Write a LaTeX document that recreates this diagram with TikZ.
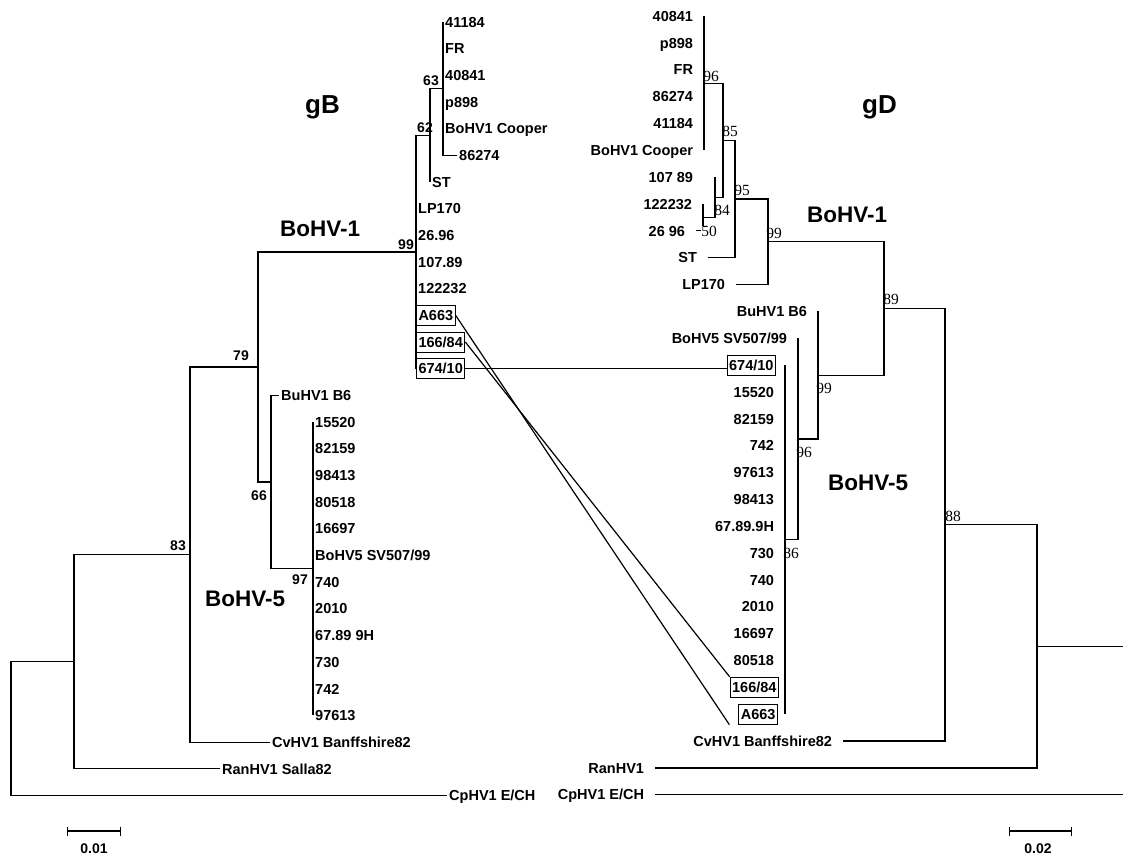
\documentclass[tikz,border=0pt]{standalone}
\usepackage{fontspec}
\setmainfont{Liberation Sans}
\newfontfamily\serifnum{Liberation Serif}
\usetikzlibrary{positioning, arrows.meta}
\tikzset{>=Stealth}
\tikzset{
  br/.style={line width=1.2pt},
  lleaf/.style={anchor=west, inner xsep=2pt, inner ysep=0pt, text height=10.4pt, text depth=0pt, font=\bfseries\fontsize{14.5}{16}\selectfont},
  rleaf/.style={lleaf, anchor=east, inner xsep=0pt, outer xsep=11pt},
  ltag/.style={lleaf, draw, line width=1pt, inner xsep=2pt, inner ysep=4.8pt},
  rtag/.style={ltag, anchor=east},
  lboot/.style={inner sep=0pt, text height=10.4pt, text depth=0pt, font=\bfseries\fontsize{14}{16}\selectfont},
  rboot/.style={lboot, font=\serifnum\fontsize{15.5}{16}\selectfont},
  clade/.style={anchor=base west, inner sep=0pt, font=\bfseries\fontsize{22.5}{24}\selectfont},
  gene/.style={clade, font=\bfseries\fontsize{26}{28}\selectfont},
  scalebar/.style={br, {Bar[width=9pt]}-{Bar[width=9pt]}}
}

\begin{document}
\begin{tikzpicture}[x=1pt, y=-1pt]
\useasboundingbox (0,0) rectangle (1123,854);

% ---- gB ----
\node[gene] (gB) at (305,113) {gB};
\node[clade] (lBoI) at (280,236) {BoHV-1};
\node[clade] (lBoV) at (205,606) {BoHV-5};

\node[lleaf] (L0) at (443,22) {41184};
\node[lleaf] (L1) at (443,48.7) {FR};
\node[lleaf] (L2) at (443,75.3) {40841};
\node[lleaf] (L3) at (443,102) {p898};
\node[lleaf] (L4) at (443,128.7) {BoHV1 Cooper};
\node[lleaf] (L5) at (457,155.4) {86274};
\node[lleaf] (L6) at (430,182) {ST};
\node[lleaf] (L7) at (416,208.7) {LP170};
\node[lleaf] (L8) at (416,235.4) {26.96};
\node[lleaf] (L9) at (416,262) {107.89};
\node[lleaf] (L10) at (416,288.7) {122232};
\node[ltag] (L11) at (416,315.4) {A663};
\node[ltag] (L12) at (416,342) {166/84};
\node[ltag] (L13) at (416,368.7) {674/10};
\node[lleaf] (L14) at (279,395.4) {BuHV1 B6};
\node[lleaf] (L15) at (313,422.1) {15520};
\node[lleaf] (L16) at (313,448.7) {82159};
\node[lleaf] (L17) at (313,475.4) {98413};
\node[lleaf] (L18) at (313,502.1) {80518};
\node[lleaf] (L19) at (313,528.7) {16697};
\node[lleaf] (L20) at (313,555.4) {BoHV5 SV507/99};
\node[lleaf] (L21) at (313,582.1) {740};
\node[lleaf] (L22) at (313,608.7) {2010};
\node[lleaf] (L23) at (313,635.4) {67.89 9H};
\node[lleaf] (L24) at (313,662.1) {730};
\node[lleaf] (L25) at (313,688.8) {742};
\node[lleaf] (L26) at (313,715.4) {97613};
\node[lleaf] (L27) at (270,742.1) {CvHV1 Banffshire82};
\node[lleaf] (L28) at (220,768.8) {RanHV1 Salla82};
\node[lleaf] (L29) at (447,795.4) {CpHV1 E/CH};

\coordinate (n63) at (443,88.7);
\coordinate (n62) at (430,135.4);
\coordinate (n99) at (416,252);
\coordinate (n97) at (313,568.7);
\coordinate (n66) at (271,482);
\coordinate (n79) at (258,367);
\coordinate (n83) at (190,554.6);
\coordinate (nRan) at (74,661.7);
\coordinate (nRoot) at (11,728.6);

\draw[br] (n63 |- L0) -- (n63 |- L5) -- (L5.west);
\draw[br] (n62) |- (n63);  \draw[br] (n62) |- (L6.west);
\draw[br] (n99) |- (n62);  \draw[br] (n99) |- (L13.west);
\draw[br] (n79) |- (n99);  \draw[br] (n79) |- (n66);
\draw[br] (n66) |- (L14.west);  \draw[br] (n66) |- (n97);
\draw[br] (n97) |- (L15.west);  \draw[br] (n97) |- (L26.west);
\draw[br] (n83) |- (n79);  \draw[br] (n83) |- (L27.west);
\draw[br] (nRan) |- (n83);  \draw[br] (nRan) |- (L28.west);
\draw[br] (nRoot) |- (nRan);  \draw[br] (nRoot) |- (L29.west);

\node[lboot] (b63) at (431,80) {63};
\node[lboot] (b62) at (425,127) {62};
\node[lboot] (b99) at (406,244) {99};
\node[lboot] (b79) at (241,355) {79};
\node[lboot] (b66) at (259,495) {66};
\node[lboot] (b97) at (300,579) {97};
\node[lboot] (b83) at (178,545) {83};

% ---- gD ----
\node[gene] (gD) at (862,113) {gD};
\node[clade] (rBoI) at (807,222) {BoHV-1};
\node[clade] (rBoV) at (828,490) {BoHV-5};

\node[rleaf] (R0) at (704,16) {40841};
\node[rleaf] (R1) at (704,42.9) {p898};
\node[rleaf] (R2) at (704,69.7) {FR};
\node[rleaf] (R3) at (704,96.6) {86274};
\node[rleaf] (R4) at (704,123.4) {41184};
\node[rleaf] (R5) at (704,150.3) {BoHV1 Cooper};
\node[rleaf] (R6) at (704,177.1) {107 89};
\node[rleaf] (R7) at (703,204) {122232};
\node[rleaf] (R8) at (696,230.8) {26 96};
\node[rleaf] (R9) at (708,257.7) {ST};
\node[rleaf] (R10) at (736,284.5) {LP170};
\node[rleaf] (R11) at (818,311.4) {BuHV1 B6};
\node[rleaf] (R12) at (798,338.2) {BoHV5 SV507/99};
\node[rtag] (R13) at (776,365.1) {674/10};
\node[rleaf] (R14) at (785,391.9) {15520};
\node[rleaf] (R15) at (785,418.8) {82159};
\node[rleaf] (R16) at (785,445.6) {742};
\node[rleaf] (R17) at (785,472.5) {97613};
\node[rleaf] (R18) at (785,499.3) {98413};
\node[rleaf] (R19) at (785,526.2) {67.89.9H};
\node[rleaf] (R20) at (785,553) {730};
\node[rleaf] (R21) at (785,579.9) {740};
\node[rleaf] (R22) at (785,606.7) {2010};
\node[rleaf] (R23) at (785,633.6) {16697};
\node[rleaf] (R24) at (785,660.4) {80518};
\node[rtag] (R25) at (779,687.3) {166/84};
\node[rtag] (R26) at (778,714.1) {A663};
\node[rleaf] (R27) at (843,741) {CvHV1 Banffshire82};
\node[rleaf] (R28) at (655,767.9) {RanHV1};
\node[rleaf] (R29) at (655,794.7) {CpHV1 E/CH};

\coordinate (r96) at (704,83.2);
\coordinate (r50) at (703,217.4);
\coordinate (r84) at (715,197.3);
\coordinate (r85) at (723,140.2);
\coordinate (r95) at (735,199);
\coordinate (r99a) at (768,241.8);
\coordinate (r86) at (785,539.6);
\coordinate (r96b) at (798,438.9);
\coordinate (r99b) at (818,375.2);
\coordinate (r89) at (884,308.5);
\coordinate (r88) at (945,524.8);
\coordinate (rRan) at (1037,646.4);
\coordinate (rRoot) at (1123,720.5);

\draw[br] (R0.east) -- (R5.east);
\draw[br] (r50) |- (R7.east);  \draw[br] (r50) |- (R8.east);
\draw[br] (r84) |- (r50);  \draw[br] (r84) -- (r84 |- R6);
\draw[br] (r85) |- (r96);  \draw[br] (r85) |- (r84);
\draw[br] (r95) |- (r85);  \draw[br] (r95) |- (R9.east);
\draw[br] (r99a) |- (r95);  \draw[br] (r99a) |- (R10.east);
\draw[br] (r86 |- R13) -- (r86 |- R26);
\draw[br] (r96b) |- (R12.east);  \draw[br] (r96b) |- (r86);
\draw[br] (r99b) |- (R11.east);  \draw[br] (r99b) |- (r96b);
\draw[br] (r89) |- (r99a);  \draw[br] (r89) |- (r99b);
\draw[br] (r88) |- (r89);  \draw[br] (r88) |- (R27.east);
\draw[br] (rRan) |- (r88);  \draw[br] (rRan) |- (R28.east);
\draw[br] (rRan) -- (rRan -| rRoot);
\draw[br] (R29.east) -- (R29 -| rRoot);

\node[rboot] (c96) at (711,76) {96};
\node[rboot] (c85) at (730,131) {85};
\node[rboot] (c84) at (722,210) {84};
\node[rboot, fill=white] (c50) at (709,231) {50};
\node[rboot] (c95) at (742,190) {95};
\node[rboot] (c99a) at (774,233) {99};
\node[rboot] (c89) at (891,299) {89};
\node[rboot] (c99b) at (824,388) {99};
\node[rboot] (c96b) at (804,452) {96};
\node[rboot] (c86) at (791,553) {86};
\node[rboot] (c88) at (953,516) {88};

% links between the two trees
\draw[br] (L11.east) -- ([xshift=-9pt]R26.south west);
\draw[br] (L12.east) -- (R25.north west);
\draw[br] (L13.east) -- (R13.west |- L13.east);

% scale bars
\coordinate (sbLa) at (67,831);
\coordinate (sbLb) at (121,831);
\draw[scalebar] (sbLa) -- (sbLb);
\node[lboot] (sbLt) at (94,848) {0.01};
\coordinate (sbRa) at (1009,831);
\coordinate (sbRb) at (1072,831);
\draw[scalebar] (sbRa) -- (sbRb);
\node[lboot] (sbRt) at (1038,848) {0.02};
\end{tikzpicture}
\end{document}
